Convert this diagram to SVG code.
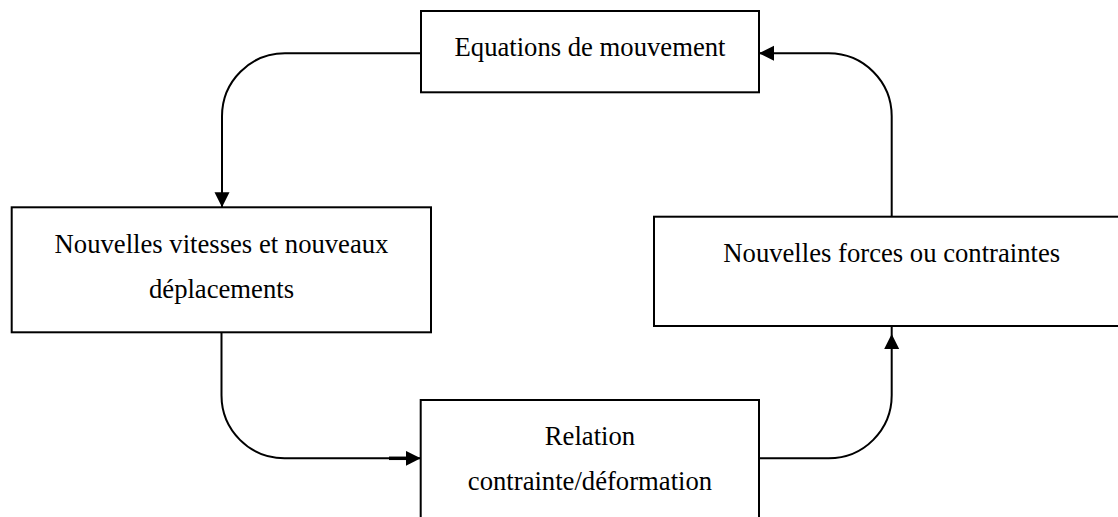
<svg xmlns="http://www.w3.org/2000/svg" width="1118" height="517" viewBox="0 0 1118 517">
  <style>
    .box { fill: #ffffff; stroke: #000000; stroke-width: 2; }
    .label { font-family: "Liberation Serif", "Times New Roman", serif; font-size: 26.67px; fill: #000000; text-anchor: middle; }
    .wire { fill: none; stroke: #000000; stroke-width: 2; }
  </style>
  <defs>
    <marker id="arrow" markerUnits="userSpaceOnUse" markerWidth="16" markerHeight="16" refX="15" refY="7.5" orient="auto">
      <path d="M0,0 L15,7.5 L0,15 z" fill="#000000"/>
    </marker>
  </defs>

  <rect width="1118" height="517" fill="#ffffff"/>

  <!-- Nodes -->
  <g id="node-equations">
    <rect class="box" x="421" y="11" width="338" height="81.3"/>
    <text class="label" x="590" y="56">Equations de mouvement</text>
  </g>

  <g id="node-vitesses">
    <rect class="box" x="11.7" y="207.3" width="419.3" height="125"/>
    <text class="label" x="221.5" y="252.5">Nouvelles vitesses et nouveaux</text>
    <text class="label" x="221.5" y="297.5">déplacements</text>
  </g>

  <g id="node-relation">
    <rect class="box" x="420.7" y="400" width="338.3" height="130"/>
    <text class="label" x="590" y="445">Relation</text>
    <text class="label" x="590" y="489.5">contrainte/déformation</text>
  </g>

  <g id="node-forces">
    <rect class="box" x="654" y="216.7" width="476" height="109.3"/>
    <text class="label" x="891.7" y="262">Nouvelles forces ou contraintes</text>
  </g>

  <!-- Connectors -->
  <g id="connectors">
    <!-- equations -> vitesses -->
    <path class="wire" d="M421,53.3 H285 A63,63 0 0 0 222,116.3 V207.3" marker-end="url(#arrow)"/>
    <!-- vitesses -> relation -->
    <path class="wire" d="M221.5,332.3 V395.3 A63,63 0 0 0 284.5,458.3 H420.7" marker-end="url(#arrow)"/>
    <line x1="389" y1="458.3" x2="407" y2="458.3" stroke="#000000" stroke-width="3.5"/>
    <!-- relation -> forces -->
    <path class="wire" d="M759,458.3 H828.7 A63,63 0 0 0 891.7,395.3 V334" marker-end="url(#arrow)"/>
    <line class="wire" x1="891.7" y1="334" x2="891.7" y2="326"/>
    <!-- forces -> equations -->
    <path class="wire" d="M891.7,216.7 V116.3 A63,63 0 0 0 828.7,53.3 H759" marker-end="url(#arrow)"/>
  </g>
</svg>
